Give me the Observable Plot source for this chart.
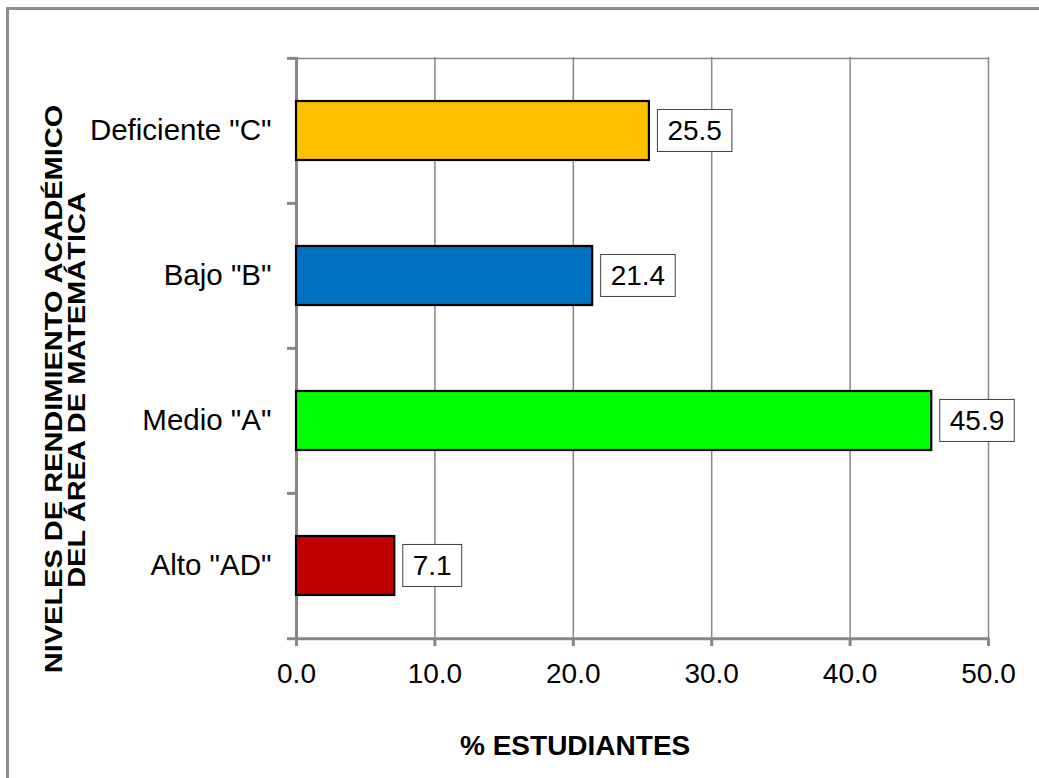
<!DOCTYPE html>
<html>
<head>
<meta charset="utf-8">
<script src="https://cdn.jsdelivr.net/npm/d3@7"></script>
<script src="https://cdn.jsdelivr.net/npm/@observablehq/plot@0.6"></script>
<style>
  html, body { margin: 0; padding: 0; background: white; overflow: hidden; }
  #wrap { position: relative; width: 1039px; height: 778px; }
  #border { position: absolute; left: 6px; top: 7px; width: 1200px; height: 1000px;
            border: 3px solid #8e8e8e; pointer-events: none; }
</style>
</head>
<body>
<div id="wrap"><div id="chart"></div><div id="border"></div></div>
<script>
const categories = ['Deficiente "C"', 'Bajo "B"', 'Medio "A"', 'Alto "AD"'];
const values = [25.5, 21.4, 45.9, 7.1];
const colors = ["#FFC000", "#0070C0", "#00FF00", "#C00000"];
const xTicks = [0, 10, 20, 30, 40, 50];
const xTitle = "% ESTUDIANTES";
const yTitleLines = ["NIVELES DE RENDIMIENTO ACADÉMICO", "DEL ÁREA DE MATEMÁTICA"];

const data = categories.map((c, i) => ({cat: c, value: values[i]}));

const W = 1039, H = 778, mt = 57, mb = 140, ml = 296, mr = 51;
const step = (H - mt - mb) / categories.length;
const gray = "#878787";
const font = "'Liberation Sans', Arial, sans-serif";

const chart = Plot.plot({
  width: W, height: H,
  marginLeft: ml, marginRight: mr, marginTop: mt, marginBottom: mb,
  style: {fontFamily: font, fontSize: "28px", color: "black", background: "transparent"},
  x: {domain: [0, 50]},
  y: {domain: categories, paddingInner: 0.594, paddingOuter: 0.297},
  color: {domain: categories, range: colors},
  marks: [
    Plot.gridX(xTicks.slice(1), {stroke: gray, strokeOpacity: 1, strokeWidth: 1.5}),
    Plot.ruleY([categories[0]], {x1: 0, x2: 50, dy: -step / 2, stroke: gray, strokeWidth: 1.5}),
    Plot.ruleY(categories, {x1: -0.65, x2: 0, dy: -step / 2, stroke: gray, strokeWidth: 3}),
    Plot.ruleY([categories[categories.length - 1]], {x1: -0.65, x2: 50, dy: step / 2, stroke: gray, strokeWidth: 3}),
    Plot.ruleX([0], {stroke: gray, strokeWidth: 3}),
    Plot.barX(data, {x: "value", y: "cat", fill: "cat", stroke: "black", strokeWidth: 2.2}),
    Plot.text(data, {x: "value", y: "cat", text: d => d.value.toFixed(1), textAnchor: "start",
                     dx: 18, fontSize: 28, fill: "black"}),
    Plot.axisX(xTicks, {tickSize: 8, tickPadding: 17, tickFormat: d => d.toFixed(1),
                        stroke: gray, strokeWidth: 3, fontSize: 28, label: null}),
    Plot.axisY({tickSize: 0, tickPadding: 25, fontSize: 29.5, label: null})
  ]
});

document.getElementById("chart").appendChild(chart);

const svg = d3.select(chart);
const svgRect = chart.getBoundingClientRect();
// boxes behind the value labels
svg.selectAll('g[aria-label="text"] text').each(function () {
  const r = this.getBoundingClientRect();
  const cy = r.top - svgRect.top + r.height / 2;
  const g = this.parentNode;
  d3.select(g.parentNode).insert("rect", () => g)
    .attr("x", r.left - svgRect.left - 10)
    .attr("y", cy - 21)
    .attr("width", r.width + 20)
    .attr("height", 42)
    .attr("fill", "white")
    .attr("stroke", "#404040")
    .attr("stroke-width", 1);
});

// axis titles
svg.append("text")
  .attr("x", 460).attr("y", 755)
  .attr("text-anchor", "start")
  .style("font-family", font).style("font-weight", "bold").style("font-size", "28px")
  .attr("fill", "black")
  .text(xTitle);

const yPos = [[62, 389], [85, 390]];
yTitleLines.forEach((t, i) => {
  svg.append("text")
    .attr("transform", `translate(${yPos[i][0]},${yPos[i][1]}) rotate(-90) scale(1,0.8)`)
    .attr("text-anchor", "middle")
    .style("font-family", font).style("font-weight", "bold").style("font-size", "29px")
    .attr("fill", "black")
    .text(t);
});
</script>
</body>
</html>
